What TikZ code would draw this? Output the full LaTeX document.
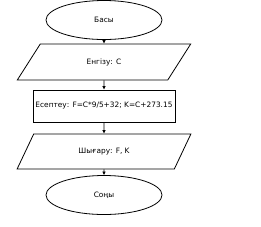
\documentclass[tikz,border=0pt]{standalone}
\usepackage{fontspec}
\setmainfont{DejaVu Sans}
\usetikzlibrary{arrows.meta,positioning,shapes.geometric}

\begin{document}
\begin{tikzpicture}[x=1pt, y=-1pt, line width=0.8pt,
  every node/.style={font=\fontsize{7.4}{8.5}\selectfont},
  term/.style={draw, ellipse, minimum width=116pt, minimum height=39pt, inner sep=0pt},
  io/.style={draw, trapezium, trapezium left angle=49, trapezium right angle=131,
    trapezium stretches=true, minimum width=174pt, minimum height=36pt, inner sep=0pt},
  proc/.style={draw, rectangle, minimum width=142pt, minimum height=32pt, inner sep=0pt},
  arr/.style={-{Latex[length=3.5pt,width=3.5pt]}}]
\useasboundingbox (0,0) rectangle (261,226);
\node[term] (start) at (104,20) {Басы};
\node[io] (input) at (104,62) {Енгізу: С};
\node[proc] (calc) at (104,106) {Есептеу: F=C*9/5+32; K=C+273.15};
\node[io, minimum height=35pt] (output) at (104,151.5) {Шығару: F, K};
\node[term] (stop) at (104,195) {Соңы};
\draw[arr] (start) -- (input);
\draw[arr] (input) -- (calc);
\draw[arr] (calc) -- (output);
\draw[arr] (output) -- (stop);
\end{tikzpicture}
\end{document}
